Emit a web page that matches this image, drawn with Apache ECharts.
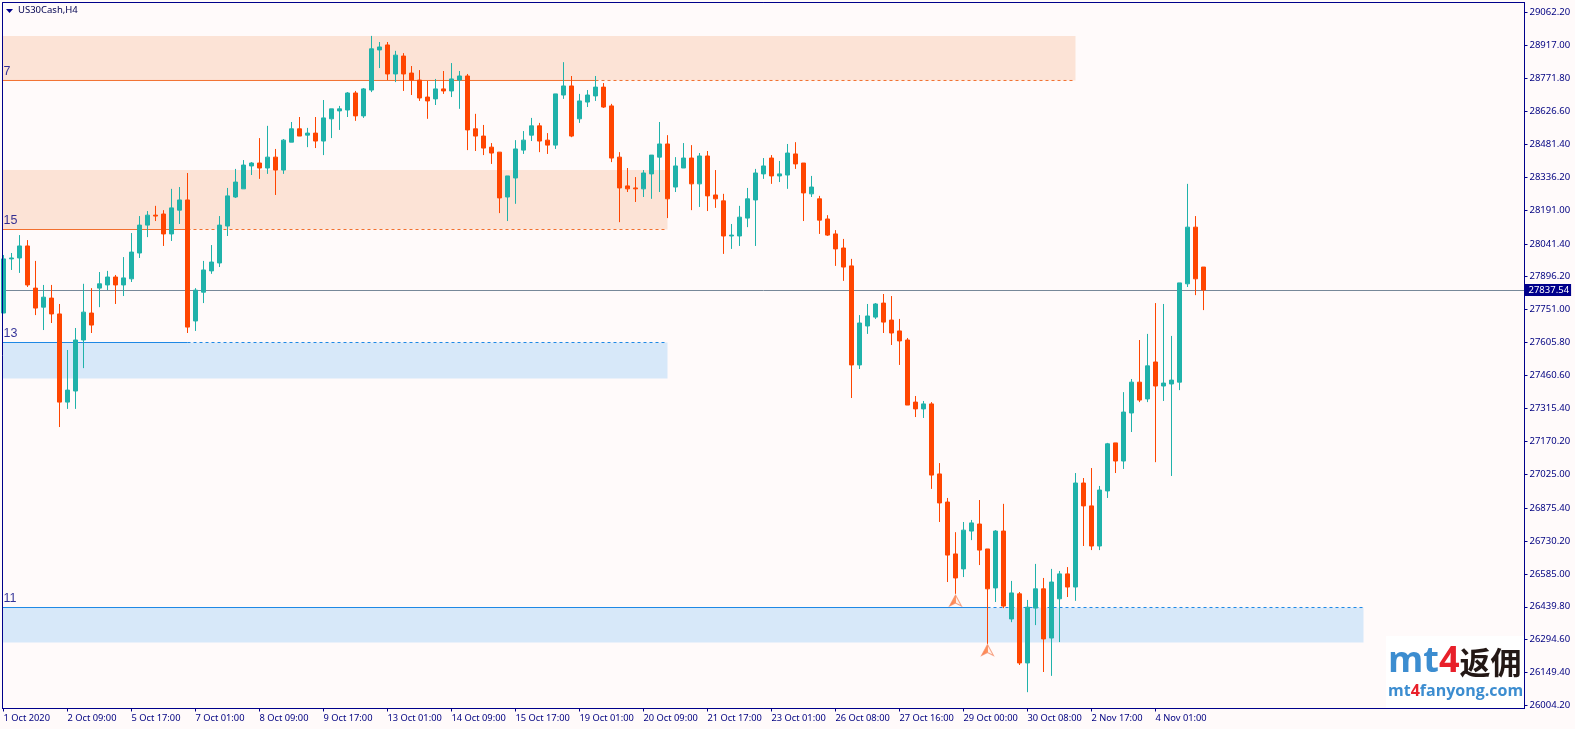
<!DOCTYPE html>
<html>
<head>
<meta charset="utf-8">
<title>US30Cash,H4</title>
<style>
  html, body { margin: 0; padding: 0; background: #FFFAFA; }
  #chart { width: 1575px; height: 729px; }
</style>
<script src="https://cdn.jsdelivr.net/npm/echarts@6/dist/echarts.min.js"></script>
</head>
<body>
<div id="chart"></div>
<script>
// H4 candles, one entry per bar
const opens = [27736,27975,27979,28032,27846,27762,27802,27732,27343,27392,27617,27736,27846,27860,27895,27860,27887,28001,28124,28168,28173,28085,28190,28235,27701,27828,27922,27957,28120,28248,
  28284,28385,28398,28376,28424,28367,28490,28549,28521,28530,28495,28593,28628,28632,28707,28606,28720,28897,28919,28791,28870,28795,28764,28689,28681,28725,28716,28764,28782,28549,
  28517,28468,28446,28248,28332,28455,28521,28562,28499,28477,28698,28738,28593,28667,28694,28733,28650,28424,28297,28288,28284,28350,28424,28482,28292,28376,28420,28306,28429,28257,
  28231,28076,28076,28155,28235,28350,28420,28341,28345,28438,28398,28262,28240,28151,28085,28023,27944,27507,27679,27718,27780,27705,27657,27617,27343,27313,27335,27026,26902,26673,
  26607,26774,26805,26695,26523,26774,26386,26497,26192,26434,26519,26302,26475,26585,26527,26986,26885,26708,26951,27163,27083,27295,27431,27357,27520,27414,27423,27431,27865,28115,27939];
const closes = [27975,27979,28032,27860,27758,27806,27732,27343,27396,27617,27740,27683,27865,27895,27860,27891,28005,28124,28168,28164,28085,28200,28235,27674,27837,27926,27961,28124,28253,28314,
  28389,28398,28376,28424,28367,28499,28549,28517,28530,28495,28597,28637,28637,28707,28606,28725,28902,28910,28791,28874,28791,28764,28685,28672,28725,28716,28769,28782,28544,28517,
  28464,28442,28244,28341,28460,28499,28562,28495,28477,28703,28738,28517,28672,28698,28733,28645,28420,28288,28284,28284,28354,28433,28482,28240,28385,28420,28306,28429,28253,28240,
  28076,28080,28159,28240,28354,28385,28341,28350,28442,28394,28266,28292,28146,28080,28019,27939,27507,27692,27723,27776,27696,27648,27613,27330,27313,27335,27021,26898,26668,26567,
  26778,26810,26690,26519,26774,26443,26501,26192,26438,26519,26298,26549,26585,26527,26986,26885,26708,26955,27159,27083,27299,27431,27352,27503,27414,27427,27440,27869,28115,27887,27837.54];
const lows = [27736,27926,27913,27851,27727,27661,27692,27233,27313,27313,27493,27648,27762,27837,27776,27811,27873,27979,28071,28142,28032,28054,28129,27648,27657,27780,27909,27939,28076,28244,
  28284,28345,28328,28350,28257,28350,28490,28517,28468,28464,28433,28508,28544,28601,28584,28597,28711,28817,28764,28755,28716,28698,28672,28593,28654,28703,28689,28637,28455,28451,
  28433,28394,28177,28142,28218,28438,28495,28446,28438,28460,28681,28512,28575,28645,28672,28641,28402,28137,28270,28226,28248,28240,28270,28155,28270,28376,28190,28204,28186,28200,
  27997,28019,28032,28115,28032,28328,28306,28314,28284,28372,28142,28248,28085,28076,27944,27878,27361,27489,27644,27710,27648,27595,27507,27330,27277,27273,26960,26814,26549,26497,
  26571,26734,26624,26276,26461,26434,26372,26183,26063,26359,26152,26135,26284,26483,26466,26708,26690,26690,26920,27030,27048,27211,27343,27343,27078,27348,27017,27396,27851,27815,27749];
const highs = [27992,28001,28080,28058,27966,27860,27860,27776,27573,27670,27865,27846,27917,27922,27904,27983,28089,28164,28186,28209,28190,28284,28292,28354,27846,27966,28036,28164,28288,28372,
  28411,28402,28508,28562,28460,28504,28579,28601,28553,28601,28676,28637,28650,28711,28716,28729,28959,28932,28932,28893,28883,28826,28808,28760,28769,28804,28839,28804,28791,28615,
  28566,28486,28446,28341,28499,28539,28597,28575,28530,28703,28843,28782,28703,28720,28782,28751,28659,28446,28376,28336,28367,28433,28579,28521,28424,28486,28477,28442,28451,28367,
  28262,28129,28209,28288,28372,28420,28433,28407,28482,28490,28398,28341,28253,28168,28102,28063,27975,27727,27776,27780,27820,27811,27710,27626,27370,27348,27343,27074,26920,26769,
  26814,26823,26911,26695,26778,26894,26554,26505,26470,26629,26567,26607,26598,26615,27030,27008,27052,26973,27163,27163,27387,27445,27617,27644,27780,27776,27635,27869,28306,28164,27939];

// axes
const priceTicks = [29062.2,28917,28771.8,28626.6,28481.4,28336.2,28191,28041.4,27896.2,27751,27605.8,27460.6,27315.4,27170.2,27025,26875.4,26730.2,26585,26439.8,26294.6,26149.4,26004.2];
const timeTickBars = [0,8,16,24,32,40,48,56,64,72,80,88,96,104,112,120,128,136,144];
const timeTickLabels = ['1 Oct 2020','2 Oct 09:00','5 Oct 17:00','7 Oct 01:00','8 Oct 09:00','9 Oct 17:00','13 Oct 01:00','14 Oct 09:00','15 Oct 17:00','19 Oct 01:00','20 Oct 09:00','21 Oct 17:00','23 Oct 01:00','26 Oct 08:00','27 Oct 16:00','29 Oct 00:00','30 Oct 08:00','2 Nov 17:00','4 Nov 01:00'];
const lastPrice = 27837.54;

// supply / demand levels
const levelNames = ['7','15','13','11'];
const levelKinds = ['supply','supply','demand','demand'];
const levelPrices = [28762.2,28104.6,27606,26436.6];
const levelFarPrices = [28958.5,28367.2,27447.1,26282.2];
const levelSolidEnd = [74,23,23,123];
const levelEnd = [134,83,83,170];

// the two arrow marks: bar index and price
const arrowBars = [119,123];
const arrowPrices = [26467.5,26249.1];

const xMin = -0.125, xMax = 190.125;
const yMin = 25991, yMax = 29106.3;
const BULL = '#20B2AA', BEAR = '#FF4500', NAVY = '#00008B', INK = '#000080', PAPER = '#FFFAFA';
const kindLine = {supply: '#F2702F', demand: '#1E88E5'};
const kindFill = {supply: '#FCE3D6', demand: '#D7E8F9'};
const AXIS_FONT = '"Noto Sans", sans-serif';

const candleData = opens.map((o, i) => [i, o, closes[i], lows[i], highs[i]]);

// zones and last price hang on an empty series, so that they stay under the candles
const backSeries = {
  type: 'line',
  data: [],
  z: 1,
  silent: true,
  markArea: {
    silent: true,
    itemStyle: {opacity: 1},
    data: levelNames.map((n, i) => [
      {xAxis: xMin, yAxis: levelPrices[i], itemStyle: {color: kindFill[levelKinds[i]]}},
      {xAxis: levelEnd[i], yAxis: levelFarPrices[i]}
    ])
  },
  markLine: {
    silent: true,
    symbol: 'none',
    animation: false,
    lineStyle: {color: '#778899', width: 1, type: 'solid'},
    label: {
      position: 'end',
      distance: 0,
      formatter: () => lastPrice.toFixed(2),
      color: '#fff',
      backgroundColor: NAVY,
      fontFamily: AXIS_FONT,
      fontSize: 9.5,
      padding: [1, 2, 1, 4]
    },
    data: [{yAxis: lastPrice}]
  }
};

const levelSeries = [];
levelNames.forEach((n, i) => {
  const color = kindLine[levelKinds[i]];
  levelSeries.push({
    type: 'line', z: 2, silent: true, showSymbol: false, animation: false,
    lineStyle: {color: color, width: 1},
    data: [[xMin, levelPrices[i]], [levelSolidEnd[i], levelPrices[i]]]
  });
  levelSeries.push({
    type: 'line', z: 2, silent: true, showSymbol: false, animation: false,
    lineStyle: {color: color, width: 1, type: [3, 3]},
    data: [[levelSolidEnd[i], levelPrices[i]], [levelEnd[i], levelPrices[i]]]
  });
});

const chart = echarts.init(document.getElementById('chart'), null, {renderer: 'canvas'});
chart.setOption({
  animation: false,
  backgroundColor: PAPER,
  tooltip: {show: false},
  grid: {
    left: 2.5, top: 2.5, width: 1522, height: 706,
    show: true, borderColor: NAVY, borderWidth: 1, backgroundColor: PAPER
  },
  xAxis: {
    type: 'value',
    min: xMin,
    max: xMax,
    splitLine: {show: false},
    axisLine: {onZero: false, lineStyle: {color: NAVY, width: 1}},
    axisTick: {customValues: timeTickBars, length: 3, lineStyle: {color: NAVY}},
    axisLabel: {
      customValues: timeTickBars,
      formatter: v => timeTickLabels[timeTickBars.indexOf(v)],
      align: 'left',
      margin: 5,
      color: INK,
      fontFamily: AXIS_FONT,
      fontSize: 9.3
    }
  },
  yAxis: {
    type: 'value',
    position: 'right',
    min: yMin,
    max: yMax,
    splitLine: {show: false},
    axisLine: {show: true, onZero: false, lineStyle: {color: NAVY, width: 1}},
    axisTick: {show: true, customValues: priceTicks, length: 3, lineStyle: {color: NAVY}},
    axisLabel: {
      customValues: priceTicks,
      formatter: v => v.toFixed(2),
      margin: 5,
      color: INK,
      fontFamily: AXIS_FONT,
      fontSize: 9.5
    }
  },
  series: [
    backSeries,
    ...levelSeries,
    {
      name: 'US30Cash',
      type: 'candlestick',
      z: 5,
      barWidth: 4,
      encode: {x: 0, y: [1, 2, 3, 4]},
      itemStyle: {color: BULL, color0: BEAR, borderColor: BULL, borderColor0: BEAR, borderWidth: 1},
      data: candleData
    },
    {
      // level numbers sit just above their lines at the left edge
      type: 'scatter',
      z: 6,
      silent: true,
      symbolSize: 0,
      data: levelNames.map((n, i) => ({value: [xMin, levelPrices[i]], name: n})),
      label: {
        show: true,
        position: 'right',
        distance: 0,
        offset: [1, -9],
        formatter: p => p.name,
        color: INK,
        fontFamily: '"Liberation Sans", sans-serif',
        fontSize: 12.5
      }
    },
    {
      type: 'scatter',
      z: 6,
      silent: true,
      symbol: 'path://M0,-5 L6,6 L0,3 L-6,6 Z',
      symbolSize: [12, 11],
      itemStyle: {
        color: {type: 'linear', x: 0, y: 0, x2: 1, y2: 0, colorStops: [
          {offset: 0, color: '#FF5A14'},
          {offset: 0.5, color: '#FF7A3A'},
          {offset: 0.5, color: '#FFF1EA'},
          {offset: 1, color: '#FFF1EA'}
        ]},
        borderColor: '#F58F6A',
        borderWidth: 1
      },
      data: arrowBars.map((b, i) => [b, arrowPrices[i]])
    }
  ],
  graphic: [
    {
      type: 'polygon', z: 20, silent: true,
      shape: {points: [[6, 9], [13, 9], [9.5, 13]]},
      style: {fill: NAVY}
    },
    {
      type: 'text', z: 20, silent: true, x: 18, y: 5,
      style: {text: 'US30Cash,H4', fill: '#000050', font: '9.5px "Noto Sans", sans-serif'}
    },
    {
      type: 'rect', z: 20, silent: true,
      shape: {x: 1386, y: 636, width: 138, height: 72},
      style: {fill: '#fff'}
    },
    {
      type: 'text', z: 21, silent: true, x: 1388, y: 644,
      style: {
        text: '{a|mt}{b|4}{c|返佣}',
        rich: {
          a: {fill: '#3C8DD0', font: 'bold 36px "Open Sans", sans-serif'},
          b: {fill: '#E8202A', font: 'bold 36px "Open Sans", sans-serif'},
          c: {fill: '#231815', font: 'bold 31px "Noto Sans CJK SC", sans-serif'}
        }
      }
    },
    {
      type: 'text', z: 21, silent: true, x: 1388, y: 683,
      style: {
        text: '{a|mt}{b|4}{a|fanyong.com}',
        rich: {
          a: {fill: '#3C8DD0', font: 'bold 16px "Open Sans", sans-serif'},
          b: {fill: '#E8202A', font: 'bold 16px "Open Sans", sans-serif'}
        }
      }
    },
    {
      // frame goes on top, zones and the first candle run up to it
      type: 'rect', z: 30, silent: true,
      shape: {x: 2.5, y: 2.5, width: 1522, height: 706},
      style: {fill: null, stroke: NAVY, lineWidth: 1}
    }
  ]
});
</script>
</body>
</html>
